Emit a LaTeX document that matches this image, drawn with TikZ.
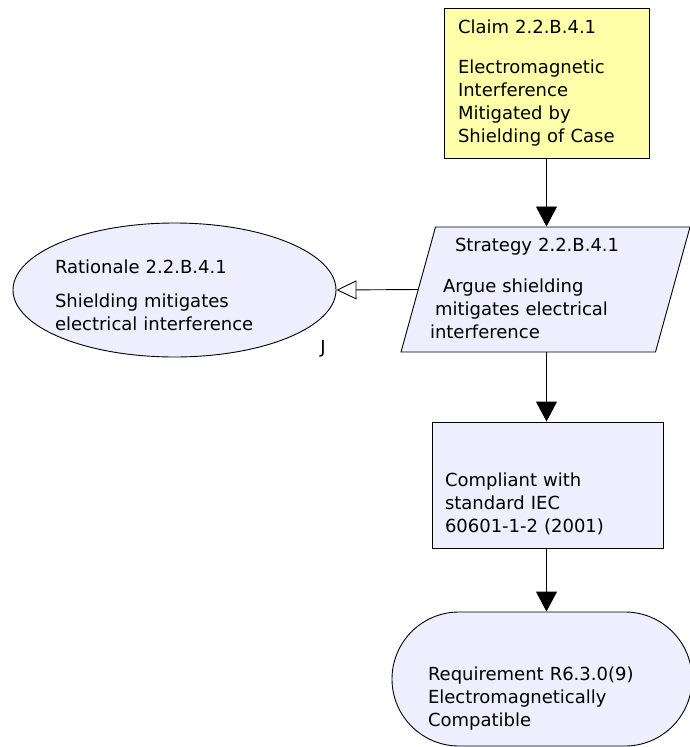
\documentclass[tikz,border=0pt]{standalone}
\usepackage{fontspec}
\setmainfont{DejaVu Sans}
\usetikzlibrary{positioning,shapes.geometric,arrows.meta}
\definecolor{claimfill}{RGB}{255,255,170}
\definecolor{gsnfill}{RGB}{238,238,254}
\tikzset{
    gsn/.style={
        x=1pt, y=-1pt,
        line width=0.9pt,
        every node/.style={font=\fontsize{18}{23}\selectfont, align=left,
                           inner sep=0pt},
        % Stile per claim (rettangolo giallo)
        claim/.style={draw, rectangle, fill=claimfill,
                      minimum width=205pt, minimum height=150pt,
                      text width=177pt, text height=14pt, text depth=114pt},
        % Stile per strategy (parallelogramma)
        strategy/.style={draw, trapezium, fill=gsnfill,
                         trapezium left angle=71.8, trapezium right angle=108.2,
                         trapezium stretches body,
                         minimum width=289pt, minimum height=125pt,
                         text width=207pt, text height=14pt, text depth=91pt},
        % Stile per rationale (ellisse)
        rationale/.style={draw, ellipse, fill=gsnfill,
                          minimum width=323pt, minimum height=134pt,
                          text width=200pt, text height=26pt, text depth=60pt},
        % Stile per solution (rettangolo)
        solution/.style={draw, rectangle, fill=gsnfill,
                         minimum width=231pt, minimum height=126pt,
                         text width=205pt, text height=52pt, text depth=50pt},
        % Stile per requirement (rettangolo arrotondato)
        requirement/.style={draw, rectangle, rounded corners=67pt, fill=gsnfill,
                            minimum width=300pt, minimum height=134pt,
                            text width=228pt, text height=52pt, text depth=50pt},
        supported/.style={-{Triangle[length=20pt, width=21pt]}},
        incontext/.style={-{Triangle[open, fill=white, length=20pt, width=19pt]}}
    }
}

\begin{document}
\begin{tikzpicture}[gsn]
    \useasboundingbox (0,0) rectangle (690,747);
    \node[claim] (claim) at (546.5,83)
        {Claim 2.2.B.4.1\\[17pt]Electromagnetic\\Interference\\Mitigated by\\Shielding of Case};
    \node[strategy] (strategy) at (545.5,289.5)
        {\hspace*{13pt}Strategy 2.2.B.4.1\\[18pt]
         \hspace*{1pt}Argue shielding\\
         \hspace*{-7pt}mitigates electrical\\
         \hspace*{-12pt}interference};
    \node[rationale] (rationale) at (174.5,290)
        {\hspace*{-19.5pt}Rationale 2.2.B.4.1\\[11pt]
         \hspace*{-19.5pt}Shielding mitigates\\
         \hspace*{-19.5pt}electrical interference};
    \node[anchor=base] (ratmark) at (323,353) {J};
    \node[solution] (solution) at (547.5,485)
        {Compliant with\\standard IEC\\60601-1-2 (2001)};
    \node[requirement] (requirement) at (542,679)
        {Requirement R6.3.0(9)\\Electromagnetically\\Compatible};

    \draw[supported] (claim.south) -- (claim.south |- strategy.north);
    \draw[supported] (strategy.south -| claim.south) -- (solution.north -| claim.south);
    \draw[supported] (solution.south -| claim.south) -- (requirement.north -| claim.south);
    \draw[incontext] (strategy.west) -- (rationale.east);
\end{tikzpicture}
\end{document}
